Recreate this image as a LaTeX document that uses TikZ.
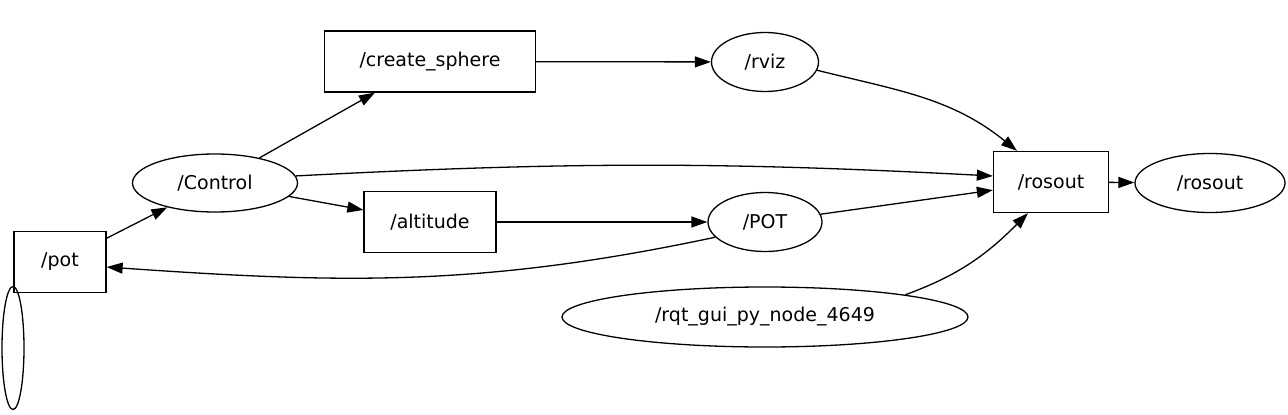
\documentclass[tikz,border=0pt]{standalone}
\usepackage{fontspec}
\setmainfont{DejaVu Sans}
\usetikzlibrary{arrows.meta,shapes.geometric}

\begin{document}
\begin{tikzpicture}[
  x=1pt, y=-1pt,
  font=\fontsize{19}{23}\selectfont,
  box/.style={draw, line width=1.3pt, inner sep=0pt, minimum height=61, align=center},
  oval/.style={draw, ellipse, line width=1.3pt, inner sep=0pt, minimum height=59},
  line/.style={-{Triangle[length=16pt,width=11pt]}, line width=1.3pt}
]
\useasboundingbox (0,0) rectangle (1288,415);

\node[box, minimum width=92] (pot) at (60,262) {/pot};
\node[oval, minimum width=22, minimum height=123] (blank) at (13,348) {};
\node[oval, minimum width=165, minimum height=58] (ctrl) at (215,183) {/Control};
\node[box, minimum width=211] (sphere) at (430,61.5) {/create\_sphere};
\node[box, minimum width=132] (alt) at (430,222) {/altitude};
\node[oval, minimum width=107] (rviz) at (765,62) {/rviz};
\node[oval, minimum width=114] (potnode) at (765,222) {/POT};
\node[oval, minimum width=406, minimum height=60] (rqt) at (765,317) {/rqt\_gui\_py\_node\_4649};
\node[box, minimum width=115] (rosoutbox) at (1051,182) {/rosout};
\node[oval, minimum width=150] (rosout) at (1210,183) {/rosout};

\draw[line] (pot) -- (ctrl);
\draw[line] (ctrl) -- (sphere);
\draw[line] (ctrl) -- (alt);
\draw[line] (ctrl.5) to[bend left=3] ([yshift=6pt]rosoutbox.west);
\draw[line] (sphere) -- (rviz);
\draw[line] (alt) -- (potnode);
\draw[line] (rviz.-9) to[out=-14, in=141] ([xshift=-34pt]rosoutbox.north);
\draw[line] (potnode) -- (rosoutbox);
\draw[line] (potnode.197) to[out=192, in=-4] ([yshift=-5pt]pot.east);
\draw[line] (rqt.9) to[out=20, in=225] ([xshift=-23pt]rosoutbox.south);
\draw[line] (rosoutbox) -- (rosout);
\end{tikzpicture}
\end{document}
